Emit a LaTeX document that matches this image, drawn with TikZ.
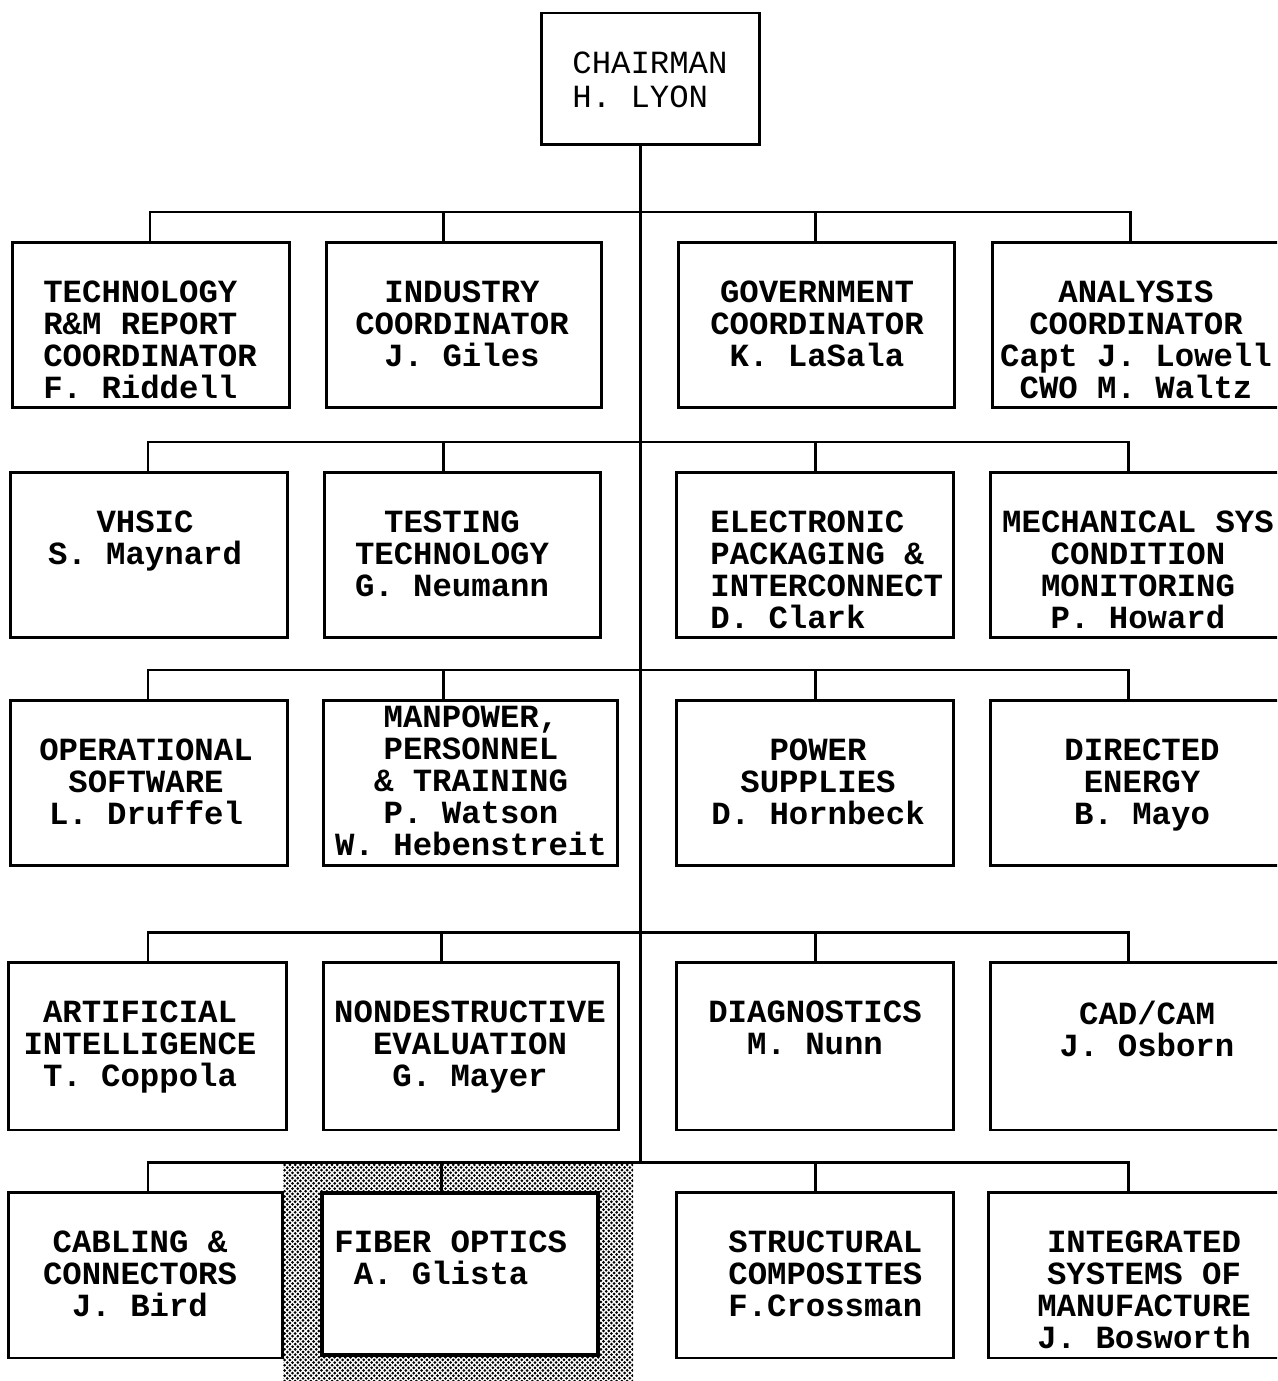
\documentclass[tikz,border=0pt]{standalone}
\usepackage{fontspec}
\usetikzlibrary{patterns}
\newfontfamily\typefont{Liberation Mono}
\newcommand{\orgfont}{\typefont\bfseries\fontsize{18.4}{18.1}\selectfont}
\newcommand{\chairfont}{\typefont\fontsize{18.4}{19.3}\selectfont}
\pgfdeclarepatternformonly{halftone}{\pgfqpoint{-1pt}{-1pt}}{\pgfqpoint{2.5pt}{2.5pt}}{\pgfqpoint{3pt}{3pt}}{
  \pgfpathcircle{\pgfqpoint{0pt}{0pt}}{.85pt}
  \pgfpathcircle{\pgfqpoint{1.5pt}{1.5pt}}{.85pt}
  \pgfusepath{fill}
}
\tikzset{unit/.style = {draw, fill = white, line width = 1.7pt, inner sep = 0, minimum width = 5.56cm, minimum height = 3.32cm}}
\tikzset{tag/.style = {font = \orgfont, align = center, anchor = north, inner sep = 0}}
\tikzset{link/.style = {line width = 1.7pt}}

\begin{document}
\begin{tikzpicture}[x = 0.02cm, y = -0.02cm]
      \useasboundingbox (0, 0) rectangle (1277, 1381);
      \clip (0, 0) rectangle (1277, 1381);
      % shaded field behind fiber optics
      \fill [pattern = halftone] (283, 1162) rectangle (633, 1381);

      \node [draw, line width = 1.7pt, inner sep = 0, minimum width = 4.38cm, minimum height = 2.64cm] (chair) at (650.5, 79) {};
      \node [font = \chairfont, align = left, anchor = north west, inner sep = 0] (chairt) at (572, 52) {CHAIRMAN\\H. LYON};

      \foreach \r/\y in {1/212, 2/442, 3/670, 4/932, 5/1162} {
        \coordinate (j\r) at (640, \y);
      }

      % row 1
      \node [unit] (r1a) at (151, 325) {};
      \node [unit, minimum width = 5.52cm] (r1b) at (464, 325) {};
      \node [unit, minimum width = 5.54cm] (r1c) at (816.5, 325) {};
      \node [unit, minimum width = 6.16cm] (r1d) at (1146, 325) {};
      \node [tag, align = left, anchor = north west] (r1at) at (43, 281) {TECHNOLOGY\\R\&M REPORT\\COORDINATOR\\F. Riddell};
      \node [tag] (r1bt) at (462, 281) {INDUSTRY\\COORDINATOR\\J. Giles};
      \node [tag] (r1ct) at (817, 281) {GOVERNMENT\\COORDINATOR\\K. LaSala};
      \node [tag] (r1dt) at (1136, 281) {ANALYSIS\\COORDINATOR\\Capt J. Lowell\\CWO M. Waltz};

      % row 2
      \node [unit] (r2a) at (149, 555) {};
      \node [unit, minimum width = 5.54cm] (r2b) at (462.5, 555) {};
      \node [unit] (r2c) at (815, 555) {};
      \node [unit, minimum width = 6.2cm] (r2d) at (1145, 555) {};
      \node [tag] (r2at) at (145, 511) {VHSIC\\S. Maynard};
      \node [tag] (r2bt) at (452, 511) {TESTING\\TECHNOLOGY\\G. Neumann};
      \node [tag, align = left, anchor = north west] (r2ct) at (710, 511) {ELECTRONIC\\PACKAGING \&\\INTERCONNECT\\D. Clark};
      \node [tag] (r2dt) at (1138, 511) {MECHANICAL SYS\\CONDITION\\MONITORING\\P. Howard};

      % row 3
      \node [unit] (r3a) at (149, 783) {};
      \node [unit, minimum width = 5.9cm] (r3b) at (470.5, 783) {};
      \node [unit] (r3c) at (815, 783) {};
      \node [unit, minimum width = 6.2cm] (r3d) at (1145, 783) {};
      \node [tag] (r3at) at (146, 739) {OPERATIONAL\\SOFTWARE\\L. Druffel};
      \node [tag] (r3bt) at (471, 706) {MANPOWER,\\PERSONNEL\\\& TRAINING\\P. Watson\\W. Hebenstreit};
      \node [tag] (r3ct) at (818, 739) {POWER\\SUPPLIES\\D. Hornbeck};
      \node [tag] (r3dt) at (1142, 739) {DIRECTED\\ENERGY\\B. Mayo};

      % row 4
      \node [unit, minimum width = 5.58cm, minimum height = 3.36cm] (r4a) at (147.5, 1046) {};
      \node [unit, minimum width = 5.92cm, minimum height = 3.36cm] (r4b) at (471, 1046) {};
      \node [unit, minimum height = 3.36cm] (r4c) at (815, 1046) {};
      \node [unit, minimum width = 6.2cm, minimum height = 3.36cm] (r4d) at (1145, 1046) {};
      \node [tag] (r4at) at (140, 1001) {ARTIFICIAL\\INTELLIGENCE\\T. Coppola};
      \node [tag] (r4bt) at (470, 1001) {NONDESTRUCTIVE\\EVALUATION\\G. Mayer};
      \node [tag] (r4ct) at (815, 1001) {DIAGNOSTICS\\M. Nunn};
      \node [tag] (r4dt) at (1147, 1001) {CAD/CAM\\J. Osborn};

      % row 5
      \node [unit, minimum width = 5.5cm] (r5a) at (145.5, 1275) {};
      \node [unit, line width = 2.8pt, minimum width = 5.52cm, minimum height = 3.24cm] (r5b) at (460, 1274) {};
      \node [unit] (r5c) at (815, 1275) {};
      \node [unit, minimum width = 6.24cm] (r5d) at (1144, 1275) {};
      \node [tag] (r5at) at (140, 1231) {CABLING \&\\CONNECTORS\\J. Bird};
      \node [tag, align = left, anchor = north west] (r5bt) at (334, 1231) {FIBER OPTICS\\\hphantom{X}A. Glista};
      \node [tag, align = left, anchor = north west] (r5ct) at (728, 1231) {STRUCTURAL\\COMPOSITES\\F.Crossman};
      \node [tag] (r5dt) at (1144, 1231) {INTEGRATED\\SYSTEMS OF\\MANUFACTURE\\J. Bosworth};

      % trunk and branches
      \draw [link] (chair.south -| j5) -- (j5);
      \foreach \r/\xa/\xb/\xd in {1/150/443/1130, 2/148/443/1128, 3/148/443/1128, 4/148/441/1128, 5/148/441/1128} {
        \draw [link] (r\r a.north -| \xa, 0) |- (j\r);
        \draw [link] (r\r b.north -| \xb, 0) |- (j\r);
        \draw [link] (r\r c.north -| 815, 0) |- (j\r);
        \draw [link] (r\r d.north -| \xd, 0) |- (j\r);
      }
    \end{tikzpicture}
\end{document}
